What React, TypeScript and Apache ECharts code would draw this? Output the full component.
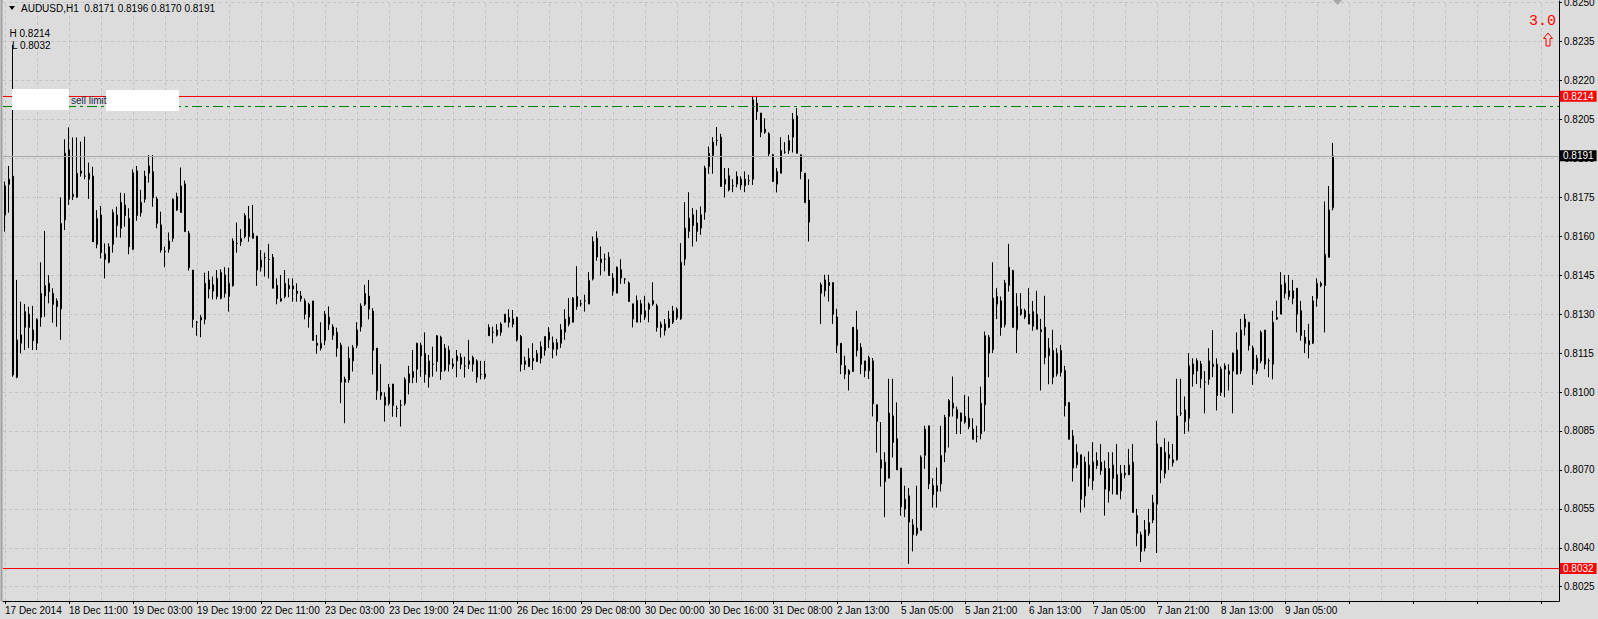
import React, { useEffect, useRef } from "react";
import * as echarts from "echarts";

// ---- data ----
const symbolName = "AUDUSD,H1";
const tickLabels = [
  "17 Dec 2014", "18 Dec 11:00", "19 Dec 03:00", "19 Dec 19:00", "22 Dec 11:00",
  "23 Dec 03:00", "23 Dec 19:00", "24 Dec 11:00", "26 Dec 16:00", "29 Dec 08:00",
  "30 Dec 00:00", "30 Dec 16:00", "31 Dec 08:00", "2 Jan 13:00", "5 Jan 05:00",
  "5 Jan 21:00", "6 Jan 13:00", "7 Jan 05:00", "7 Jan 21:00", "8 Jan 13:00", "9 Jan 05:00",
];
const yTicks = [
  0.8025, 0.804, 0.8055, 0.807, 0.8085, 0.81, 0.8115, 0.813, 0.8145, 0.816,
  0.8175, 0.819, 0.8205, 0.822, 0.8235, 0.825,
];
const highLevel = 0.8214;
const lowLevel = 0.8032;
const limitLevel = 0.821;
const bidPrice = 0.8191;
const indicatorValue = "3.0";

// candles: [open, close, low, high]; null = no bar
const candles: (number[] | null)[] = [
  [0.81682, 0.81794, 0.81618, 0.81811], [0.818, 0.8182, 0.81691, 0.81871], [0.81832, 0.81066, 0.81059, 0.82338],
  [0.81057, 0.81201, 0.81053, 0.81432], [0.81188, 0.8122, 0.81149, 0.81348], [0.81249, 0.8131, 0.81162, 0.81339],
  [0.813, 0.81249, 0.81169, 0.81329], [0.81239, 0.81198, 0.81162, 0.81332], [0.81188, 0.8128, 0.81162, 0.81284],
  [0.81288, 0.8138, 0.81252, 0.815], [0.8137, 0.8141, 0.8129, 0.81621], [0.81419, 0.81387, 0.81342, 0.81451],
  [0.8138, 0.81338, 0.81267, 0.814], [0.81351, 0.81329, 0.81252, 0.81361], [0.8132, 0.8165, 0.81201, 0.8175],
  [0.81663, 0.8192, 0.81624, 0.81974], [0.81933, 0.81743, 0.81721, 0.8202], [0.81753, 0.81762, 0.8174, 0.81981],
  [0.8175, 0.81843, 0.8175, 0.81981], [0.81852, 0.81843, 0.8183, 0.81965], [0.81832, 0.81832, 0.8182, 0.81984],
  [0.81843, 0.8182, 0.81744, 0.81884], [0.81832, 0.81579, 0.81579, 0.81868], [0.81569, 0.81669, 0.81554, 0.81701],
  [0.81682, 0.81537, 0.81515, 0.81717], [0.81532, 0.81511, 0.81438, 0.81573], [0.815, 0.8156, 0.81496, 0.81573],
  [0.81569, 0.81692, 0.81537, 0.81704], [0.81682, 0.81641, 0.81596, 0.81714], [0.81631, 0.81731, 0.81595, 0.81768],
  [0.81721, 0.8168, 0.81637, 0.81766], [0.81669, 0.8156, 0.81531, 0.81708], [0.8155, 0.81845, 0.81547, 0.81858],
  [0.81852, 0.8168, 0.8166, 0.81871], [0.81691, 0.81731, 0.81676, 0.81779], [0.81743, 0.81832, 0.8173, 0.81853],
  [0.81843, 0.81871, 0.81807, 0.81913], [0.81849, 0.81749, 0.81714, 0.81913], [0.81744, 0.8165, 0.81631, 0.81753],
  [0.81644, 0.81547, 0.81537, 0.81695], [0.81541, 0.81541, 0.81481, 0.8156], [0.8155, 0.81582, 0.81537, 0.81615],
  [0.81592, 0.81743, 0.81579, 0.81746], [0.81753, 0.81701, 0.81698, 0.81768], [0.81692, 0.81794, 0.81691, 0.81865],
  [0.81802, 0.81618, 0.81618, 0.81815], [0.81612, 0.81479, 0.81468, 0.81621], [0.8147, 0.8128, 0.81248, 0.8147],
  [0.81269, 0.81269, 0.81217, 0.81274], [0.81278, 0.81288, 0.81211, 0.81297], [0.8128, 0.81419, 0.81261, 0.8146],
  [0.81432, 0.81397, 0.81361, 0.81466], [0.81413, 0.81389, 0.81357, 0.81445], [0.81438, 0.81368, 0.81357, 0.8147],
  [0.81361, 0.81461, 0.81357, 0.81473], [0.81451, 0.8138, 0.81364, 0.81481], [0.81368, 0.81419, 0.8131, 0.81479],
  [0.8141, 0.81582, 0.81406, 0.81592], [0.81573, 0.81573, 0.81537, 0.81653], [0.81579, 0.81592, 0.81563, 0.81628],
  [0.81599, 0.8168, 0.81592, 0.81689], [0.81667, 0.81599, 0.81579, 0.81717], [0.81592, 0.81612, 0.81592, 0.81721],
  [0.81601, 0.8147, 0.81409, 0.81601], [0.81481, 0.81509, 0.81464, 0.81547], [0.81518, 0.81518, 0.81445, 0.81537],
  [0.81511, 0.81511, 0.81438, 0.81571], [0.81519, 0.814, 0.814, 0.81532], [0.81411, 0.8136, 0.81338, 0.81438],
  [0.81351, 0.8136, 0.81348, 0.81451], [0.81368, 0.81419, 0.81361, 0.8147], [0.81411, 0.81398, 0.81365, 0.81438],
  [0.81409, 0.81397, 0.81348, 0.81438], [0.81389, 0.8138, 0.81348, 0.81419], [0.8137, 0.8136, 0.81348, 0.81389],
  [0.81351, 0.813, 0.8128, 0.8136], [0.81289, 0.81338, 0.81248, 0.81344], [0.81351, 0.81199, 0.81199, 0.81351],
  [0.81188, 0.8118, 0.81148, 0.8122], [0.81169, 0.81188, 0.8116, 0.81269], [0.81199, 0.813, 0.81181, 0.81312],
  [0.81289, 0.81261, 0.81239, 0.8133], [0.81251, 0.81219, 0.81201, 0.81261], [0.8123, 0.81169, 0.81136, 0.81248],
  [0.81181, 0.81038, 0.80957, 0.8119], [0.81049, 0.81038, 0.8088, 0.81059], [0.81047, 0.8113, 0.81036, 0.81175],
  [0.8112, 0.81171, 0.81079, 0.81181], [0.81179, 0.81239, 0.81169, 0.81269], [0.81251, 0.81332, 0.81233, 0.81342],
  [0.81338, 0.8138, 0.81332, 0.81413], [0.8137, 0.81319, 0.8128, 0.81432], [0.81312, 0.81161, 0.81068, 0.81323],
  [0.81169, 0.81005, 0.8097, 0.81169], [0.80999, 0.80986, 0.8097, 0.81108], [0.8098, 0.80949, 0.80886, 0.80999],
  [0.80955, 0.81018, 0.80948, 0.81031], [0.81031, 0.80948, 0.80905, 0.81031], [0.80937, 0.80937, 0.80903, 0.80948],
  [0.80949, 0.80949, 0.80867, 0.8097], [0.80955, 0.81049, 0.80948, 0.81057], [0.81036, 0.8107, 0.80991, 0.81101],
  [0.81056, 0.81079, 0.81034, 0.81162], [0.81088, 0.81188, 0.81036, 0.8119], [0.8118, 0.81139, 0.81059, 0.8119],
  [0.81149, 0.81068, 0.81036, 0.8123], [0.81057, 0.8112, 0.81017, 0.81143], [0.81107, 0.81107, 0.81059, 0.81175],
  [0.81117, 0.81217, 0.81079, 0.8122], [0.81211, 0.81079, 0.81047, 0.81217], [0.81085, 0.81169, 0.81079, 0.81185],
  [0.81161, 0.81107, 0.81079, 0.81178], [0.81098, 0.81108, 0.81089, 0.8113], [0.8112, 0.81139, 0.81057, 0.81162],
  [0.81133, 0.81107, 0.81088, 0.81149], [0.811, 0.811, 0.81056, 0.81136], [0.81107, 0.8112, 0.81089, 0.81201],
  [0.81107, 0.81133, 0.81079, 0.8114], [0.8112, 0.81057, 0.81036, 0.81126], [0.81068, 0.81068, 0.81049, 0.8112],
  [0.81057, 0.8107, 0.81049, 0.8112], [0.81249, 0.81217, 0.81217, 0.81261], [0.8123, 0.8123, 0.81188, 0.81252],
  [0.81219, 0.81239, 0.81214, 0.81262], [0.8123, 0.81262, 0.81217, 0.81269], [0.81269, 0.813, 0.81268, 0.813],
  [0.81287, 0.81269, 0.81249, 0.81319], [0.81261, 0.81282, 0.81249, 0.81316], [0.81288, 0.81201, 0.81195, 0.8129],
  [0.81214, 0.81107, 0.81079, 0.8122], [0.8112, 0.81107, 0.81085, 0.81136], [0.81098, 0.8113, 0.81098, 0.81169],
  [0.8112, 0.8113, 0.81085, 0.81188], [0.81117, 0.81149, 0.81117, 0.81162], [0.8113, 0.81175, 0.8111, 0.81195],
  [0.8116, 0.81214, 0.8114, 0.81214], [0.81231, 0.81201, 0.8117, 0.8125], [0.8119, 0.81165, 0.8113, 0.81214],
  [0.81165, 0.8119, 0.8114, 0.81205], [0.81188, 0.8124, 0.8117, 0.81262], [0.81231, 0.81281, 0.81201, 0.81319],
  [0.81289, 0.81262, 0.81253, 0.81362], [0.81269, 0.81362, 0.81268, 0.81366], [0.81368, 0.8133, 0.81317, 0.81485],
  [0.8134, 0.8134, 0.8133, 0.81355], [0.81352, 0.81352, 0.8131, 0.81375], [0.81339, 0.8143, 0.81339, 0.81462],
  [0.81436, 0.8158, 0.8143, 0.81599], [0.81593, 0.8152, 0.81506, 0.81619], [0.81512, 0.81499, 0.81449, 0.81561],
  [0.81512, 0.81512, 0.81465, 0.81533], [0.8152, 0.81449, 0.81449, 0.81539], [0.81439, 0.81388, 0.81371, 0.81458],
  [0.81381, 0.81481, 0.81381, 0.81484], [0.81471, 0.81439, 0.81417, 0.81512], [0.81435, 0.81435, 0.81417, 0.81439],
  [0.8142, 0.81349, 0.81349, 0.81426], [0.8134, 0.81281, 0.81249, 0.8134], [0.81269, 0.81353, 0.81269, 0.81372],
  [0.8134, 0.813, 0.81268, 0.81355], [0.81289, 0.81313, 0.81278, 0.81371], [0.81319, 0.81339, 0.81269, 0.81345],
  [0.81352, 0.81339, 0.81332, 0.81423], [0.81332, 0.81249, 0.81233, 0.8134], [0.81262, 0.81249, 0.8121, 0.81272],
  [0.81262, 0.81237, 0.81218, 0.81281], [0.8125, 0.81281, 0.81246, 0.81313], [0.81269, 0.81313, 0.81262, 0.81332],
  [0.81319, 0.81287, 0.81278, 0.81326], [0.81282, 0.815, 0.81278, 0.81574], [0.81512, 0.81632, 0.81488, 0.81732],
  [0.81619, 0.8167, 0.81593, 0.8177], [0.81683, 0.81642, 0.81561, 0.81709], [0.81651, 0.81619, 0.8158, 0.81702],
  [0.81632, 0.81683, 0.81606, 0.81715], [0.81693, 0.81863, 0.81664, 0.81872], [0.81869, 0.8192, 0.81841, 0.81946],
  [0.81911, 0.81963, 0.81841, 0.81982], [0.81969, 0.81969, 0.81949, 0.82021], [0.81982, 0.81792, 0.81792, 0.81995],
  [0.81801, 0.8182, 0.8175, 0.81863], [0.81833, 0.81779, 0.81773, 0.81863], [0.81795, 0.81795, 0.8177, 0.8182],
  [0.81801, 0.81831, 0.81789, 0.8185], [0.8182, 0.81798, 0.81779, 0.81831], [0.81795, 0.8182, 0.8177, 0.8185],
  [0.81814, 0.81814, 0.81798, 0.81837], [0.8182, 0.82126, 0.81798, 0.82141], [0.82113, 0.82081, 0.82049, 0.82141],
  [0.82075, 0.82001, 0.81982, 0.82075], [0.82013, 0.82001, 0.81995, 0.82055], [0.81995, 0.81918, 0.81908, 0.82001],
  [0.81914, 0.81811, 0.81811, 0.81918], [0.81801, 0.8185, 0.81769, 0.81863], [0.81843, 0.81931, 0.81843, 0.81982],
  [0.81924, 0.81924, 0.81918, 0.81963], [0.81931, 0.81969, 0.81918, 0.81991], [0.81982, 0.82051, 0.81923, 0.82075],
  [0.82064, 0.8192, 0.8192, 0.82094], [0.81914, 0.8185, 0.8182, 0.81914], [0.81843, 0.8173, 0.8173, 0.81843],
  [0.8174, 0.81655, 0.8158, 0.8182], null, null,
  [0.81413, 0.81381, 0.81262, 0.81422], [0.8139, 0.81432, 0.81368, 0.81452], [0.81422, 0.81411, 0.81349, 0.81452],
  [0.81422, 0.813, 0.81262, 0.81422], [0.81289, 0.81179, 0.8115, 0.81321], [0.81188, 0.81105, 0.81069, 0.81188],
  [0.81101, 0.81069, 0.8105, 0.8114], [0.81082, 0.81069, 0.81006, 0.81088], [0.81079, 0.8125, 0.81079, 0.8125],
  [0.8124, 0.8116, 0.81137, 0.81313], [0.81172, 0.81107, 0.81069, 0.81188], [0.8112, 0.81082, 0.81057, 0.8112],
  [0.81082, 0.81133, 0.8105, 0.8114], [0.8112, 0.80955, 0.80906, 0.81131], [0.80951, 0.80887, 0.80767, 0.80951],
  [0.80707, 0.80739, 0.80636, 0.80884], [0.8073, 0.80655, 0.80518, 0.80768], [0.80668, 0.80919, 0.80668, 0.81051],
  [0.80908, 0.80806, 0.80748, 0.81051], [0.8082, 0.807, 0.807, 0.8096], [0.80707, 0.80557, 0.80524, 0.80707],
  [0.80549, 0.80587, 0.80518, 0.80639], [0.806, 0.80499, 0.80338, 0.8063], [0.80488, 0.8045, 0.80386, 0.8051],
  [0.80454, 0.80476, 0.80446, 0.80639], [0.80467, 0.80749, 0.80467, 0.80756], [0.80756, 0.80857, 0.80704, 0.8087],
  [0.8087, 0.80646, 0.80626, 0.8087], [0.80639, 0.80604, 0.80555, 0.80668], [0.80617, 0.80639, 0.80555, 0.80709],
  [0.80646, 0.80756, 0.80617, 0.8087], [0.80768, 0.80902, 0.8073, 0.80912], [0.80906, 0.80967, 0.80786, 0.80973],
  [0.80957, 0.80938, 0.80906, 0.8106], [0.80932, 0.80899, 0.80838, 0.80944], [0.80887, 0.80919, 0.80838, 0.80921],
  [0.80906, 0.80884, 0.80878, 0.80989], [0.80899, 0.80867, 0.80857, 0.80983], [0.80857, 0.80818, 0.80818, 0.80899],
  [0.80829, 0.80829, 0.80806, 0.8087], [0.80839, 0.80957, 0.80818, 0.81021], [0.80951, 0.81217, 0.80848, 0.81233],
  [0.81211, 0.8115, 0.81057, 0.8122], [0.81163, 0.81362, 0.8115, 0.815], [0.81368, 0.81339, 0.81281, 0.814],
  [0.81351, 0.81249, 0.81217, 0.81368], [0.81259, 0.8142, 0.81249, 0.81432], [0.81411, 0.81481, 0.81387, 0.81571],
  [0.81468, 0.81249, 0.81249, 0.81471], [0.8124, 0.8133, 0.8115, 0.81381], [0.81319, 0.813, 0.81294, 0.81381],
  [0.81313, 0.81289, 0.81281, 0.81321], [0.813, 0.81262, 0.81262, 0.814], [0.81253, 0.8131, 0.81236, 0.81351],
  [0.813, 0.81242, 0.81242, 0.8139], [0.81233, 0.8124, 0.81006, 0.81282], [0.8125, 0.81133, 0.81107, 0.81371],
  [0.8114, 0.81169, 0.8103, 0.81208], [0.8116, 0.81057, 0.8103, 0.8124], [0.8107, 0.8115, 0.8106, 0.81169],
  [0.8116, 0.81075, 0.8106, 0.81182], [0.81083, 0.80948, 0.80906, 0.81101], [0.8096, 0.80818, 0.80818, 0.8096],
  [0.80831, 0.80707, 0.80655, 0.80854], [0.8072, 0.80768, 0.80707, 0.80799], [0.80758, 0.80587, 0.80536, 0.80758],
  [0.806, 0.8073, 0.80555, 0.80751], [0.80719, 0.80668, 0.80636, 0.80771], [0.80658, 0.8073, 0.80623, 0.80807],
  [0.80736, 0.80717, 0.80704, 0.80768], [0.8073, 0.80697, 0.80681, 0.808], [0.80706, 0.80626, 0.80524, 0.80736],
  [0.80619, 0.80706, 0.80574, 0.80768], [0.80719, 0.80668, 0.80606, 0.80768], [0.80681, 0.80606, 0.80606, 0.808],
  [0.80619, 0.80687, 0.80587, 0.80719], [0.80681, 0.80687, 0.80668, 0.80719], [0.80681, 0.80719, 0.80681, 0.80781],
  [0.8073, 0.80536, 0.80536, 0.808], [0.80524, 0.80456, 0.80406, 0.8055], [0.8045, 0.80386, 0.80345, 0.80462],
  [0.80398, 0.80469, 0.80386, 0.80507], [0.80456, 0.80497, 0.80446, 0.8055], [0.80507, 0.80574, 0.80495, 0.80604],
  [0.80568, 0.808, 0.8038, 0.80889], [0.80787, 0.807, 0.80649, 0.80787], [0.80687, 0.80768, 0.80668, 0.80822],
  [0.80758, 0.80745, 0.807, 0.80809], [0.80739, 0.80728, 0.80713, 0.808], [0.80739, 0.80908, 0.80736, 0.81051],
  [0.80918, 0.80918, 0.80908, 0.81051], [0.80931, 0.80886, 0.80839, 0.80983], [0.80899, 0.81101, 0.80848, 0.8115],
  [0.81108, 0.81069, 0.81021, 0.8113], [0.81081, 0.81121, 0.81031, 0.8113], [0.81108, 0.81051, 0.81015, 0.8112],
  [0.81038, 0.81038, 0.80918, 0.81081], [0.81049, 0.8112, 0.81028, 0.81169], [0.81107, 0.81098, 0.81057, 0.81239],
  [0.81107, 0.80986, 0.80929, 0.8113], [0.80998, 0.81089, 0.80985, 0.81098], [0.81101, 0.81088, 0.8098, 0.81111],
  [0.81081, 0.81069, 0.81006, 0.81107], [0.81081, 0.8115, 0.80918, 0.81152], [0.81162, 0.81069, 0.81069, 0.8123],
  [0.81081, 0.81239, 0.81069, 0.81282], [0.8125, 0.81281, 0.81218, 0.81301], [0.81269, 0.81179, 0.8116, 0.81269],
  [0.81169, 0.81088, 0.81028, 0.81179], [0.81081, 0.8113, 0.81069, 0.81143], [0.8112, 0.8123, 0.81111, 0.81237],
  [0.81239, 0.81107, 0.81088, 0.81239], [0.81121, 0.81121, 0.81057, 0.8113], [0.81107, 0.81269, 0.81049, 0.81313],
  [0.81281, 0.81287, 0.81278, 0.81352], [0.813, 0.81413, 0.813, 0.81462], [0.81419, 0.81381, 0.81361, 0.81451],
  [0.8139, 0.81368, 0.81355, 0.81451], [0.81361, 0.8139, 0.81338, 0.81432], [0.814, 0.813, 0.8123, 0.814],
  [0.81313, 0.81218, 0.81198, 0.81351], [0.81211, 0.81188, 0.8115, 0.81239], [0.81182, 0.81198, 0.8113, 0.81263],
  [0.81188, 0.81351, 0.81185, 0.8137], [0.81361, 0.81419, 0.81329, 0.81438], [0.8141, 0.81419, 0.81404, 0.81426],
  [0.8141, 0.81531, 0.8123, 0.81734], [0.81519, 0.81702, 0.81519, 0.81794], [0.8171, 0.8191, 0.817, 0.8196],
];

// ---- layout / style ----
const W = 1598;
const H = 619;
const BG = "#dcdcdc";
const GRID_COLOR = "#c3c3c3";
const RED = "#ff0000";
const FONT = "'Liberation Sans', Arial, sans-serif";
const SLOTS = 389; // total bar slots visible on the time axis
const LABEL_STEP = 16;
const GRID_STEP = 8;
const Y_MIN = 0.801949;
const Y_MAX = 0.825067;

const categories = Array.from({ length: SLOTS }, (_, i) =>
  i % LABEL_STEP === 0 && i / LABEL_STEP < tickLabels.length ? tickLabels[i / LABEL_STEP] : ""
);

const NB = "\u00a0";
const fmt = (v: number) => v.toFixed(4);

function priceLineSeries(value: number, color: string, type: any, boxColor: string | null, z: number) {
  return {
    type: "line",
    data: [],
    silent: true,
    z,
    markLine: {
      silent: true,
      z,
      precision: 6,
      symbol: "none",
      lineStyle: { color, type, width: 1, opacity: 1 },
      emphasis: { disabled: true },
      label: boxColor
        ? {
            show: true,
            position: "end",
            distance: 1,
            formatter: fmt(value),
            color: "#ffffff",
            backgroundColor: boxColor,
            padding: [1, 3, 0, 3],
            fontSize: 10,
            fontFamily: FONT,
          }
        : { show: false },
      data: [{ yAxis: value }],
    },
  };
}

export default function App() {
  const ref = useRef<HTMLDivElement>(null);

  useEffect(() => {
    if (!ref.current) return;
    const chart = echarts.init(ref.current, undefined, { renderer: "svg" });
    const last = candles[candles.length - 1] as number[];
    const header = `${symbolName}${NB}${NB}${fmt(last[0])} ${fmt(last[3])} ${fmt(last[2])} ${fmt(last[1])}`;

    const gridLines = [
      ...yTicks.map((v) => ({ yAxis: v })),
      ...Array.from({ length: Math.floor((SLOTS - 1) / GRID_STEP) + 1 }, (_, k) => ({ xAxis: k * GRID_STEP })),
    ];

    chart.setOption({
      animation: false,
      backgroundColor: BG,
      grid: { left: 3, top: 1, width: 1556, height: 600, outerBoundsMode: "none", containLabel: false },
      xAxis: {
        type: "category",
        data: categories,
        boundaryGap: true,
        axisLine: { show: true, onZero: false, lineStyle: { color: "#000", width: 1 } },
        axisTick: {
          show: true,
          alignWithLabel: true,
          interval: (i: number) => i % LABEL_STEP === 0,
          length: 3,
          lineStyle: { color: "#000" },
        },
        axisLabel: {
          show: true,
          interval: (i: number) => i % LABEL_STEP === 0,
          align: "left",
          margin: 4,
          fontSize: 10,
          color: "#000",
          fontFamily: FONT,
        },
        splitLine: { show: false },
      },
      yAxis: {
        type: "value",
        position: "right",
        min: Y_MIN,
        max: Y_MAX,
        scale: true,
        axisLine: { show: true, lineStyle: { color: "#000", width: 1 } },
        axisTick: { show: true, customValues: yTicks, length: 3, lineStyle: { color: "#000" } },
        axisLabel: {
          show: true,
          customValues: yTicks,
          formatter: (v: number) => fmt(v),
          margin: 5,
          fontSize: 10,
          color: "#000",
          fontFamily: FONT,
        },
        splitLine: { show: false },
      },
      series: [
        {
          type: "line",
          data: [],
          silent: true,
          z: 1,
          markLine: {
            silent: true,
            z: 1,
            precision: 6,
            symbol: "none",
            label: { show: false },
            lineStyle: { color: GRID_COLOR, type: [3, 3], width: 1 },
            data: gridLines,
          },
        },
        {
          type: "candlestick",
          z: 2,
          barWidth: 2,
          data: candles.map((c) => (c ? c : "-")),
          itemStyle: {
            color: BG,
            color0: "#000000",
            borderColor: "#000000",
            borderColor0: "#000000",
            borderColorDoji: "#000000",
            borderWidth: 1,
          },
        },
        priceLineSeries(bidPrice, "#a8a8a8", "solid", "#000000", 3),
        priceLineSeries(limitLevel, "#008000", [10, 4, 3, 4], null, 4),
        priceLineSeries(highLevel, RED, "solid", RED, 5),
        priceLineSeries(lowLevel, RED, "solid", RED, 5),
      ],
      graphic: [
        { type: "line", z: 10, shape: { x1: 1.5, y1: 0, x2: 1.5, y2: 601 }, style: { stroke: "#a0a0a0", lineWidth: 2 } },
        { type: "polygon", z: 10, shape: { points: [[1333, 0], [1342, 0], [1337.5, 5]] }, style: { fill: "#a8a8a8" } },
        { type: "polygon", z: 10, shape: { points: [[9, 6], [15, 6], [12, 10]] }, style: { fill: "#000" } },
        { type: "text", z: 10, x: 21, y: 8, style: { text: header, fill: "#000", font: `10px ${FONT}`, verticalAlign: "middle" } },
        { type: "text", z: 10, x: 9.5, y: 33, style: { text: `H ${fmt(highLevel)}`, fill: "#000", font: `10px ${FONT}`, verticalAlign: "middle" } },
        { type: "text", z: 10, x: 12, y: 45.5, style: { text: `L ${fmt(lowLevel)}`, fill: "#000", font: `10px ${FONT}`, verticalAlign: "middle" } },
        { type: "rect", z: 10, shape: { x: 12, y: 89, width: 57, height: 21 }, style: { fill: "#ffffff" } },
        { type: "rect", z: 10, shape: { x: 106, y: 90, width: 73, height: 21 }, style: { fill: "#ffffff" } },
        { type: "text", z: 10, x: 71, y: 100, style: { text: "sell limit", fill: "#1e2a44", font: `10px ${FONT}`, verticalAlign: "middle" } },
        { type: "text", z: 10, x: 1529, y: 21, style: { text: indicatorValue, fill: RED, font: `15px 'Liberation Mono', monospace`, verticalAlign: "middle" } },
        {
          type: "polygon",
          z: 10,
          shape: { points: [[1548, 33], [1543.5, 38.5], [1546, 38.5], [1546, 46], [1550, 46], [1550, 38.5], [1552.5, 38.5]] },
          style: { fill: "none", stroke: RED, lineWidth: 1 },
        },
      ],
    });
    return () => chart.dispose();
  }, []);

  return (
    <div
      ref={ref}
      style={{ position: "fixed", left: 0, top: 0, width: W, height: H, background: BG }}
    />
  );
}
